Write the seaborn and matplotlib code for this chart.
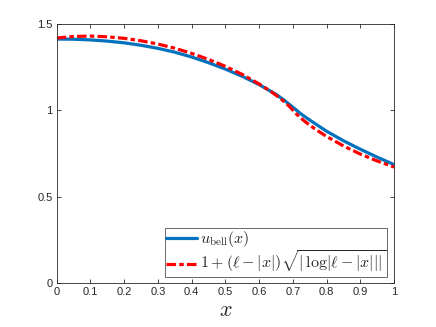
import matplotlib
matplotlib.use("Agg")
import matplotlib.pyplot as plt
import seaborn as sns
import pandas as pd

# data
x_bell = [0.0, 0.05, 0.1, 0.15, 0.2, 0.25, 0.3, 0.35, 0.4, 0.45, 0.5, 0.55,
          0.6, 0.65, 0.675, 0.7, 0.725, 0.75, 0.8, 0.85, 0.9, 0.95, 1.0]
u_bell = [1.412, 1.411, 1.407, 1.400, 1.390, 1.376, 1.358, 1.336, 1.308, 1.275,
          1.238, 1.196, 1.148, 1.092, 1.057, 1.017, 0.977, 0.943, 0.878, 0.823,
          0.774, 0.728, 0.685]

x_asym = [0.0, 0.05, 0.1, 0.15, 0.2, 0.25, 0.3, 0.35, 0.4, 0.45, 0.5, 0.55,
          0.6, 0.62, 0.64, 0.66, 0.68, 0.69, 0.7, 0.71, 0.72, 0.74, 0.76, 0.78,
          0.8, 0.85, 0.9, 0.95, 1.0]
u_asym = [1.418, 1.427, 1.429, 1.425, 1.416, 1.402, 1.383, 1.359, 1.329, 1.294,
          1.254, 1.207, 1.152, 1.127, 1.101, 1.072, 1.040, 1.021, 1.000, 0.979,
          0.960, 0.928, 0.899, 0.873, 0.848, 0.793, 0.746, 0.706, 0.671]

x_ticks = [0, 0.1, 0.2, 0.3, 0.4, 0.5, 0.6, 0.7, 0.8, 0.9, 1]
x_tick_labels = ["0", "0.1", "0.2", "0.3", "0.4", "0.5", "0.6", "0.7", "0.8", "0.9", "1"]
y_ticks = [0, 0.5, 1, 1.5]
y_tick_labels = ["0", "0.5", "1", "1.5"]

label_bell = r"$u_{\mathrm{bell}}(x)$"
label_asym = r"$1+(\ell-|x|)\sqrt{|\,\log|\ell-|x|||}$"

sns.set_theme(style="white")
plt.rcParams["font.family"] = ["Liberation Sans", "DejaVu Sans"]
plt.rcParams["mathtext.fontset"] = "cm"

df_bell = pd.DataFrame({"x": x_bell, "y": u_bell})
df_asym = pd.DataFrame({"x": x_asym, "y": u_asym})

fig = plt.figure(figsize=(4.36, 3.27), dpi=100)
ax = fig.add_axes([0.13, 0.1346, 0.774, 0.7925])

sns.lineplot(data=df_bell, x="x", y="y", ax=ax, color="#0072BD", linewidth=2.3,
             label=label_bell, sort=False)
sns.lineplot(data=df_asym, x="x", y="y", ax=ax, color="#FF0000", linewidth=2.3,
             label=label_asym, sort=False, dashes=False)
ax.lines[1].set_dashes((3.0, 1.0, 1.4, 1.0))

ax.set_xlim(0, 1)
ax.set_ylim(0, 1.5)
ax.set_xticks(x_ticks)
ax.set_xticklabels(x_tick_labels)
ax.set_yticks(y_ticks)
ax.set_yticklabels(y_tick_labels)
ax.set_xlabel(r"$x$", fontsize=16, labelpad=2)
ax.set_ylabel("")

for s in ax.spines.values():
    s.set_visible(True)
    s.set_color("#262626")
    s.set_linewidth(0.6)
ax.tick_params(direction="in", length=3, width=0.6, color="#262626",
               labelsize=8, labelcolor="#262626", top=True, right=True,
               bottom=True, left=True, pad=3)

leg = ax.legend(loc="lower right", bbox_to_anchor=(0.98, 0.023), fontsize=11.5,
                frameon=True, fancybox=False, edgecolor="#262626",
                handlelength=1.9, handletextpad=0.2, borderpad=0.1,
                labelspacing=0.0, borderaxespad=0)
leg.get_frame().set_linewidth(0.6)

fig.savefig("out.png", dpi=100)
